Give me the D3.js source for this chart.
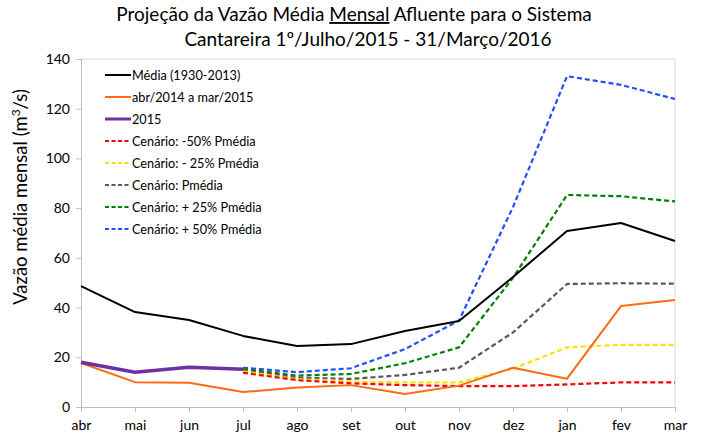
<!DOCTYPE html>
<html><head><meta charset="utf-8">
<script src="https://cdn.jsdelivr.net/npm/d3@7"></script>
<style>body{margin:0;background:#fff}svg{font-family:Lato,"Open Sans",sans-serif}</style>
</head><body><svg id="c" width="709" height="438"></svg>
<script>
const months = ["abr","mai","jun","jul","ago","set","out","nov","dez","jan","fev","mar"];
const yTicks = [0,20,40,60,80,100,120,140];
const media = [48.6,38.2,35,28.6,24.5,25.3,30.6,34.6,52.3,70.8,74,66.8];
const ano2014 = [17.7,10,9.8,6,7.8,8.8,5.2,8.6,15.8,11.4,40.6,43];
const ano2015 = [18,14,16,15.2,null,null,null,null,null,null,null,null];
const cenMenos50 = [null,null,null,13.8,10.8,9.5,8.8,8.4,8.4,9.1,9.9,9.9];
const cenMenos25 = [null,null,null,14.3,11.2,10.2,9.9,9.9,15.4,24,25,25];
const cenPmedia = [null,null,null,14.8,11.8,11.3,12.9,15.8,30,49.5,49.8,49.6];
const cenMais25 = [null,null,null,15.3,12.6,13.3,17.6,24,52,85.3,84.8,82.7];
const cenMais50 = [null,null,null,15.8,14,15.6,23.3,34.8,80.4,133.1,129.6,123.9];

const series = [
  {name:"Média (1930-2013)", values:media, color:"#000000", width:2, dash:null},
  {name:"abr/2014 a mar/2015", values:ano2014, color:"#ff6a13", width:2, dash:null},
  {name:"2015", values:ano2015, color:"#7030a0", width:3.5, dash:null},
  {name:"Cenário: -50% Pmédia", values:cenMenos50, color:"#ff0000", width:2.2, dash:"5,3"},
  {name:"Cenário: - 25% Pmédia", values:cenMenos25, color:"#ffe000", width:2.2, dash:"5,3"},
  {name:"Cenário: Pmédia", values:cenPmedia, color:"#595959", width:2.2, dash:"5,3"},
  {name:"Cenário: + 25% Pmédia", values:cenMais25, color:"#008000", width:2.2, dash:"5,3"},
  {name:"Cenário: + 50% Pmédia", values:cenMais50, color:"#1f4fff", width:2.2, dash:"5,3"}
];

const svg = d3.select("#c");
const L=81, R=675, T=59, B=407;
const x = d3.scalePoint().domain(months).range([L,R]);
const y = d3.scaleLinear().domain([0,140]).range([B,T]);

svg.append("line").attr("x1",L).attr("x2",R).attr("y1",T).attr("y2",T).attr("stroke","#d9d9d9");
svg.append("line").attr("x1",R).attr("x2",R).attr("y1",T).attr("y2",B).attr("stroke","#d9d9d9");

const yAxis = svg.append("g").attr("transform",`translate(${L},0)`)
  .call(d3.axisLeft(y).tickValues(yTicks).tickSize(5).tickPadding(6));
yAxis.selectAll("line,path").attr("stroke","#bfbfbf");
yAxis.selectAll("text").attr("font-size",14).attr("fill","#000").style("font-family","Lato,sans-serif");

const xAxis = svg.append("g").attr("transform",`translate(0,${B})`)
  .call(d3.axisBottom(x).tickSize(5).tickPadding(8));
xAxis.selectAll("line,path").attr("stroke","#bfbfbf");
xAxis.selectAll("text").attr("font-size",14).attr("fill","#000").style("font-family","Lato,sans-serif");

const line = d3.line().defined(d=>d!=null).x((d,i)=>x(months[i])).y(d=>y(d));
const order = [7,6,5,4,3,1,0,2];
order.forEach(k=>{
  const s = series[k];
  svg.append("path").attr("d",line(s.values)).attr("fill","none")
    .attr("stroke",s.color).attr("stroke-width",s.width)
    .attr("stroke-dasharray",s.dash).attr("stroke-linejoin","round");
});

const lg = svg.append("g");
series.forEach((s,i)=>{
  const yy = 75 + i*22;
  lg.append("line").attr("x1",105).attr("x2",131).attr("y1",yy).attr("y2",yy)
    .attr("stroke",s.color).attr("stroke-width",s.width===3.5?3:2).attr("stroke-dasharray",s.dash?"4,2.5":null);
  lg.append("text").attr("x",132).attr("y",yy+4.5).attr("font-size",12.7).text(s.name);
});

const t = svg.append("text").attr("x",354).attr("y",21).attr("text-anchor","middle").attr("font-size",19).attr("fill","#000");
t.append("tspan").text("Projeção da Vazão Média ");
t.append("tspan").attr("text-decoration","underline").text("Mensal");
t.append("tspan").text(" Afluente para o Sistema");
svg.append("text").attr("x",368).attr("y",46).attr("text-anchor","middle").attr("font-size",19).text("Cantareira 1º/Julho/2015 - 31/Março/2016");

const yl = svg.append("text").attr("transform","translate(27,197) rotate(-90)").attr("text-anchor","middle").attr("font-size",18.5);
yl.append("tspan").text("Vazão média mensal (m");
yl.append("tspan").attr("baseline-shift","super").attr("font-size",12).text("3");
yl.append("tspan").text("/s)");
</script></body></html>
